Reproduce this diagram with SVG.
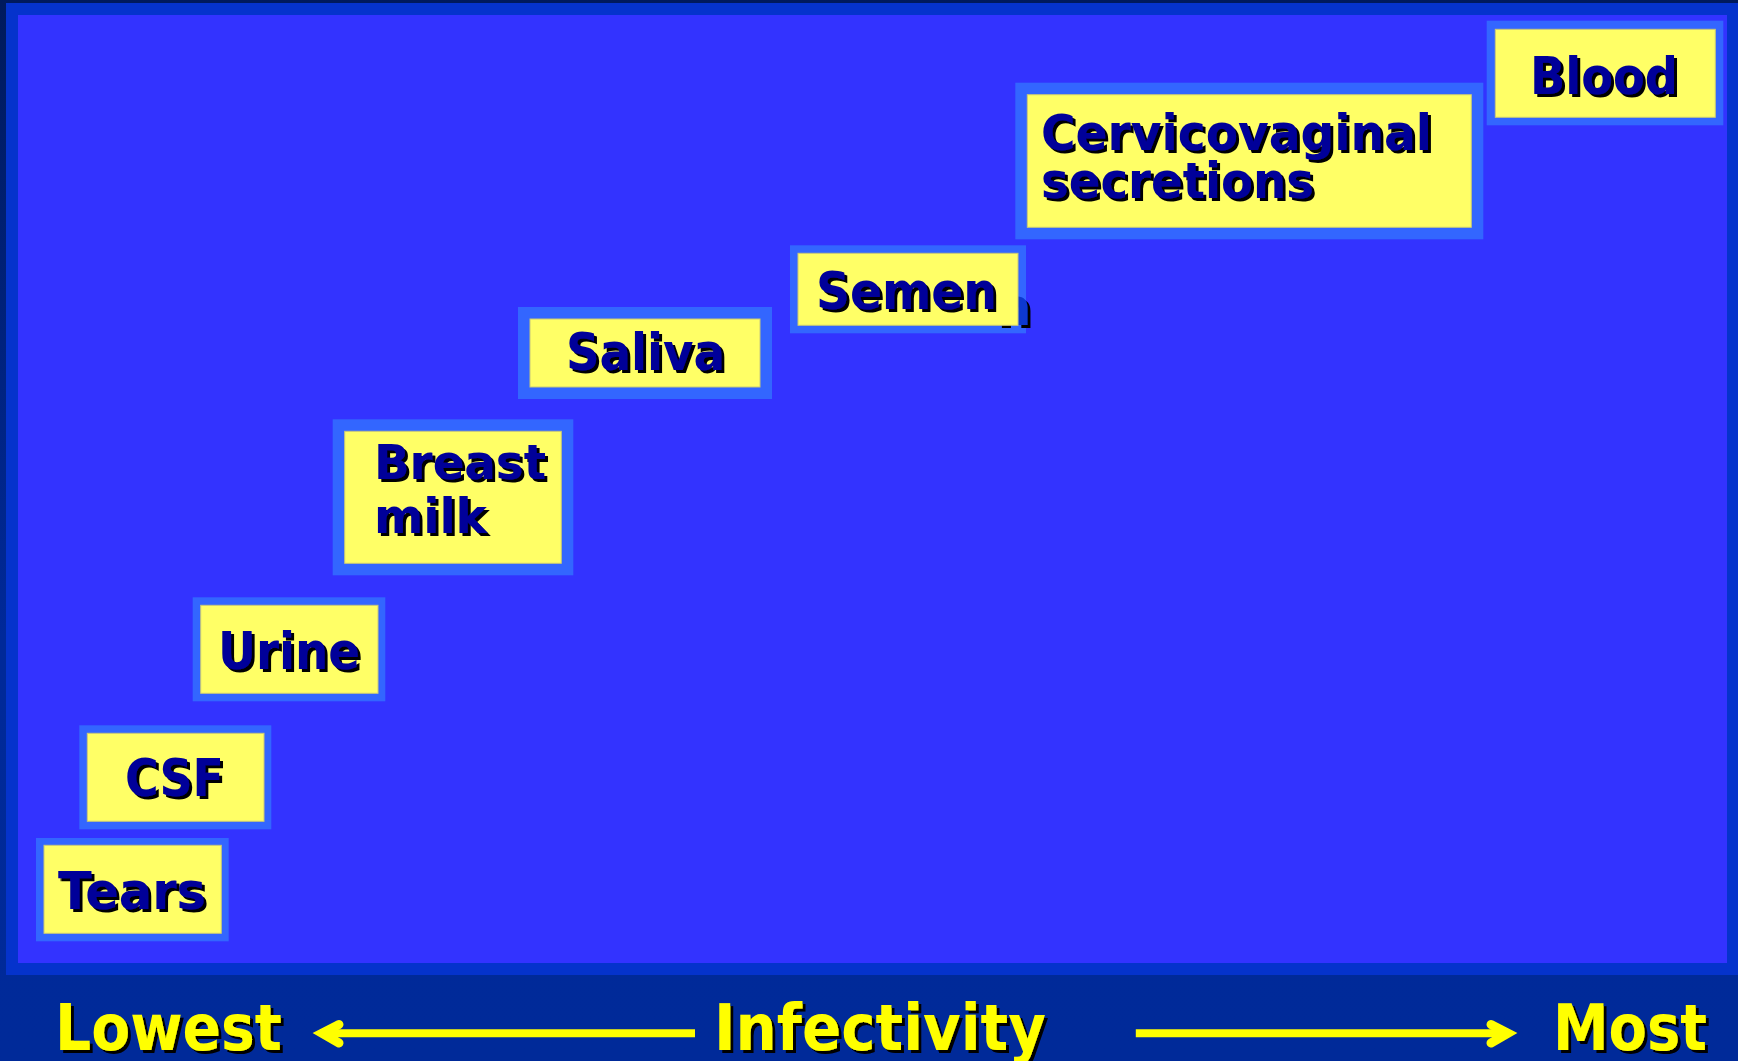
<svg xmlns="http://www.w3.org/2000/svg" width="1738" height="1061" viewBox="0 0 1738 1061">
<style>
.frame{fill:#3366ff}
.fill{fill:#ffff66;stroke:#c8c878;stroke-width:1}
.lbl{font-family:"DejaVu Sans","Liberation Sans",sans-serif;font-weight:bold;fill:#000099;filter:url(#sh)}
.axis{font-family:"DejaVu Sans","Liberation Sans",sans-serif;font-weight:bold;font-size:64px;fill:#ffff00;filter:url(#sh3)}
.arr{stroke:#ffff00;fill:none}
</style>
<defs>
<linearGradient id="bg" x1="0" y1="0" x2="0" y2="1">
<stop offset="0" stop-color="#001a5c"/>
<stop offset="0.6" stop-color="#002999"/>
<stop offset="1" stop-color="#002a99"/>
</linearGradient>
<filter id="sh" x="-10%" y="-20%" width="130%" height="150%">
<feOffset in="SourceAlpha" dx="2.5" dy="2.5" result="o"/>
<feMerge><feMergeNode in="o"/><feMergeNode in="SourceGraphic"/></feMerge>
</filter>
<filter id="sh3" x="-10%" y="-20%" width="130%" height="150%">
<feOffset in="SourceAlpha" dx="3" dy="3" result="o"/>
<feMerge><feMergeNode in="o"/><feMergeNode in="SourceGraphic"/></feMerge>
</filter>
</defs>
<rect x="0" y="0" width="1738" height="1061" fill="url(#bg)"/>
<rect x="6" y="3" width="1733" height="972" fill="#0533cc"/>
<rect x="18" y="15" width="1709" height="948" fill="#3333ff"/>

<g id="tears">
<rect class="frame" x="36" y="838" width="192.7" height="103.3"/>
<rect class="fill" x="44" y="845.3" width="177.3" height="88"/>
<text class="lbl" x="58" y="909" font-size="52" textLength="148" lengthAdjust="spacingAndGlyphs">Tears</text>
</g>
<g id="csf">
<rect class="frame" x="79.3" y="725.3" width="192" height="104"/>
<rect class="fill" x="87.3" y="733.3" width="176.7" height="88"/>
<text class="lbl" x="125" y="796" font-size="52" textLength="99" lengthAdjust="spacingAndGlyphs">CSF</text>
</g>
<g id="urine">
<rect class="frame" x="192.7" y="597.3" width="192.6" height="104"/>
<rect class="fill" x="200.7" y="605.3" width="177.3" height="88"/>
<text class="lbl" x="218" y="669" font-size="52" textLength="142" lengthAdjust="spacingAndGlyphs">Urine</text>
</g>
<g id="breast-milk">
<rect class="frame" x="332.7" y="419.3" width="240.6" height="156"/>
<rect class="fill" x="344.7" y="431.3" width="216.6" height="132"/>
<text class="lbl" font-size="48"><tspan x="374" y="479" textLength="172" lengthAdjust="spacingAndGlyphs">Breast</tspan><tspan x="374" y="533" textLength="113" lengthAdjust="spacingAndGlyphs">milk</tspan></text>
</g>
<g id="saliva">
<rect class="frame" x="518" y="307" width="254" height="92"/>
<rect class="fill" x="530" y="319" width="230" height="68"/>
<text class="lbl" x="566" y="370" font-size="52" textLength="159" lengthAdjust="spacingAndGlyphs">Saliva</text>
</g>
<g id="semen">
<rect class="frame" x="790" y="245.3" width="236" height="88"/>
<text class="lbl" x="994.5" y="325" font-size="52" style="fill:#0a38d0">n</text>
<rect class="fill" x="798" y="253.3" width="220" height="72"/>
<text class="lbl" x="816" y="309" font-size="52" textLength="181" lengthAdjust="spacingAndGlyphs">Semen</text>
</g>
<g id="cervicovaginal">
<rect class="frame" x="1015.3" y="82.7" width="468" height="156.6"/>
<rect class="fill" x="1027.3" y="94.7" width="444" height="132.6"/>
<text class="lbl" font-size="50"><tspan x="1041" y="149.5" textLength="391" lengthAdjust="spacingAndGlyphs">Cervicovaginal</tspan><tspan x="1041" y="197.5" textLength="273" lengthAdjust="spacingAndGlyphs">secretions</tspan></text>
</g>
<g id="blood">
<rect class="frame" x="1486.7" y="20.7" width="236.6" height="104.6"/>
<rect class="fill" x="1495.3" y="29.3" width="220" height="88"/>
<text class="lbl" x="1530" y="94" font-size="52" textLength="148" lengthAdjust="spacingAndGlyphs">Blood</text>
</g>

<g id="axis-labels">
<text class="axis" x="55" y="1050" textLength="227" lengthAdjust="spacingAndGlyphs">Lowest</text>
<text class="axis" x="714" y="1050" textLength="332" lengthAdjust="spacingAndGlyphs">Infectivity</text>
<text class="axis" x="1553" y="1050" textLength="154" lengthAdjust="spacingAndGlyphs">Most</text>
</g>

<g id="connectors">
<line class="arr" x1="326" y1="1033.3" x2="695" y2="1033.3" stroke-width="8"/>
<polyline class="arr" points="339,1024.5 322,1033.3 339,1043" stroke-width="9" stroke-linecap="round" stroke-linejoin="miter"/>
<line class="arr" x1="1135.8" y1="1033.3" x2="1505" y2="1033.3" stroke-width="8"/>
<polyline class="arr" points="1491,1024.5 1508,1033.3 1491,1043" stroke-width="9" stroke-linecap="round" stroke-linejoin="miter"/>
</g>
</svg>
